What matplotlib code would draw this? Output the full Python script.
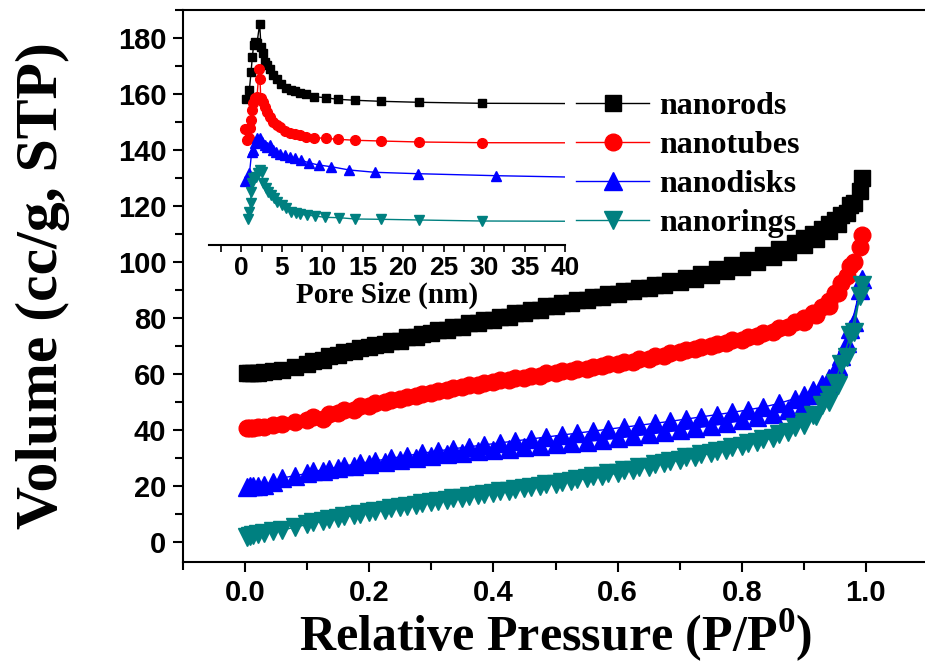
import matplotlib
matplotlib.use('Agg')
import matplotlib.pyplot as plt
from matplotlib.ticker import MultipleLocator

plt.rcParams['mathtext.fontset'] = 'custom'
plt.rcParams['mathtext.rm'] = 'Liberation Serif:bold'
plt.rcParams['mathtext.bf'] = 'Liberation Serif:bold'

# series names and colours
names = ['nanorods', 'nanotubes', 'nanodisks', 'nanorings']
colors = ['#000000', '#FF0000', '#0000FF', '#008080']
markers = ['s', 'o', '^', 'v']

# main isotherms: adsorption branch (rising P) then desorption branch (falling P)
p_ads = [0.003, 0.008, 0.013, 0.02, 0.03, 0.045, 0.06, 0.08,
         0.1, 0.125, 0.15, 0.175, 0.2, 0.225, 0.25, 0.275, 0.3, 0.325, 0.35, 0.375,
         0.4, 0.425, 0.45, 0.475, 0.5, 0.525, 0.55, 0.575, 0.6, 0.625, 0.65, 0.675,
         0.7, 0.725, 0.75, 0.775, 0.8, 0.825, 0.85, 0.875, 0.9,
         0.92, 0.94, 0.955, 0.97, 0.98, 0.993]
p_des = [0.99, 0.975, 0.96, 0.95, 0.94, 0.93, 0.915, 0.9, 0.885,
         0.86, 0.835, 0.81, 0.785, 0.76, 0.735, 0.71, 0.685, 0.66, 0.635, 0.61,
         0.585, 0.56, 0.535, 0.51, 0.485, 0.46, 0.435, 0.41, 0.385, 0.36, 0.335,
         0.31, 0.285, 0.26, 0.235, 0.21, 0.185, 0.16, 0.135, 0.11]

rods_ads = [60.3, 60.3, 60.4, 60.5, 60.7, 61.2, 61.7, 62.5,
            63.5, 65.2, 66.8, 68.3, 69.6, 70.8, 72.0, 73.3, 74.6, 75.8, 77.0, 78.2,
            79.4, 80.6, 81.8, 83.0, 84.2, 85.3, 86.4, 87.5, 88.5, 89.6, 90.7, 91.8,
            92.9, 94.1, 95.4, 96.8, 98.3, 100.0, 101.8, 103.8, 106.0,
            108.2, 111.0, 113.8, 117.5, 121.0, 130.0]
rods_des = [125.5, 120.5, 117.0, 115.2, 113.5, 112.0, 110.2, 108.5, 107.0,
            104.8, 102.6, 100.7, 99.0, 97.4, 95.9, 94.5, 93.2, 92.0, 90.9, 89.8,
            88.7, 87.6, 86.5, 85.4, 84.2, 83.0, 81.8, 80.6, 79.4, 78.2, 77.0,
            75.8, 74.5, 73.2, 71.9, 70.6, 69.3, 67.9, 66.4, 64.9]

tubes_ads = [40.9, 41.0, 41.0, 41.1, 41.3, 41.8, 42.3, 43.0,
             43.8, 44.2, 46.2, 47.4, 48.8, 50.0, 51.2, 52.3, 53.3, 54.3, 55.3, 56.2,
             57.1, 57.9, 58.7, 59.5, 60.3, 61.1, 61.9, 62.8, 63.6, 64.5, 65.5, 66.6,
             67.8, 69.0, 70.1, 71.2, 72.3, 73.5, 75.0, 76.8, 78.8,
             81.0, 84.5, 89.0, 95.0, 100.0, 109.8]
tubes_des = [105.5, 98.5, 92.5, 89.0, 86.0, 84.0, 81.8, 80.0, 78.6,
             76.6, 74.9, 73.4, 72.1, 70.9, 69.8, 68.7, 67.6, 66.5, 65.5, 64.5,
             63.6, 62.7, 61.9, 61.1, 60.3, 59.5, 58.7, 57.9, 57.0, 56.1, 55.1,
             54.1, 53.1, 52.0, 50.9, 49.7, 48.5, 47.2, 45.9, 44.6]

disks_ads = [19.8, 20.0, 20.0, 20.2, 20.5, 21.5, 23.0, 23.8,
             24.6, 25.5, 26.4, 27.3, 28.1, 28.8, 29.5, 30.2, 30.8, 31.4, 32.0, 32.5,
             33.0, 33.5, 34.0, 34.5, 35.0, 35.5, 36.0, 36.6, 37.2, 37.9, 38.6, 39.3,
             40.0, 40.8, 41.6, 42.5, 43.5, 44.6, 45.8, 47.3, 49.5,
             52.5, 57.0, 63.0, 71.0, 78.5, 94.0]
disks_des = [90.0, 76.0, 66.5, 61.5, 58.5, 56.5, 54.3, 52.6, 51.3,
             49.6, 48.3, 47.3, 46.4, 45.6, 44.8, 44.0, 43.2, 42.5, 41.8, 41.1,
             40.4, 39.7, 39.0, 38.3, 37.6, 36.9, 36.2, 35.5, 34.8, 34.1, 33.4,
             32.6, 31.8, 30.9, 30.0, 29.1, 28.2, 27.3, 26.3, 25.3]

rings_ads = [1.8, 2.2, 2.6, 3.0, 3.4, 3.9, 4.4, 5.4,
             6.4, 7.6, 8.7, 9.7, 10.7, 11.6, 12.5, 13.4, 14.3, 15.2, 16.0, 16.9,
             17.7, 18.5, 19.4, 20.2, 21.0, 21.9, 22.8, 23.7, 24.7, 25.8, 27.0, 28.2,
             29.4, 30.6, 31.8, 33.0, 34.3, 35.7, 37.3, 39.3, 41.8,
             45.0, 50.0, 56.0, 66.0, 75.0, 92.0]
rings_des = [88.0, 74.0, 63.5, 57.0, 52.5, 49.0, 45.5, 43.0, 41.2,
             38.8, 36.9, 35.3, 34.0, 32.7, 31.5, 30.3, 29.1, 27.9, 26.8, 25.7,
             24.6, 23.6, 22.6, 21.7, 20.8, 19.9, 19.0, 18.2, 17.4, 16.6, 15.8,
             14.9, 14.0, 13.1, 12.2, 11.3, 10.3, 9.3, 8.3, 7.2]

# inset: pore size distributions (arbitrary, offset units)
rods_d = [0.62, 0.99, 1.2, 1.36, 1.52, 1.73, 1.93, 2.26, 2.43, 2.67, 2.88, 3.17, 3.5,
          3.91, 4.4, 4.9, 5.56, 6.1, 6.67, 7.2, 8.0, 9.0, 10.4, 11.9, 14.1, 17.2,
          22.0, 29.8, 60]
rods_v = [145.7, 155, 173.3, 188.3, 200, 203.3, 201.7, 221, 198.3, 191.7, 183.3, 180,
          175.7, 170, 165.7, 161, 156.7, 155, 154, 151.7, 150.7, 148.3, 147.3, 145.7,
          144.7, 143.7, 142.7, 141.7, 141]
tubes_d = [0.5, 0.7, 1.0, 1.1, 1.2, 1.3, 1.45, 1.65, 1.93, 2.2, 2.3, 2.4, 2.67, 2.88,
           3.17, 3.5, 3.91, 4.4, 4.8, 5.4, 6.0, 6.6, 7.2, 8.0, 9.0, 10.4, 11.9, 14.1,
           17.2, 22.0, 29.8, 60]
tubes_v = [115.7, 105, 106.7, 116.7, 125, 135, 141.7, 146.7, 147.7, 176.3, 165.7,
           146.7, 143.3, 138.3, 133.3, 128.3, 123.3, 120, 118.3, 114.3, 112.3, 111,
           110, 108.5, 107.3, 106.7, 105.7, 104.7, 104, 103, 102.3, 102]
disks_d = [0.5, 1.0, 1.28, 1.48, 1.69, 1.98, 2.3, 2.6, 2.88, 3.17, 3.6, 3.9, 4.33,
           4.8, 5.4, 6.05, 6.67, 7.36, 8.3, 9.55, 11.1, 13.35, 16.5, 21.8, 31.5, 60]
disks_v = [64.3, 71.7, 93.3, 95, 101.7, 106.7, 107.3, 103.3, 100, 98.3, 100, 95, 93.3,
           91, 90, 88.3, 86.7, 85, 82.3, 80, 78.3, 75, 72.7, 71.3, 69.3, 65]
rings_d = [0.85, 0.99, 1.15, 1.2, 1.28, 1.48, 1.8, 2.1, 2.3, 2.5, 2.7, 3.05, 3.33,
           3.66, 4.03, 4.44, 4.97, 5.5, 6.08, 6.7, 7.28, 8.1, 9.1, 10.3, 12.1, 14.1,
           17.3, 22.0, 29.7, 60]
rings_v = [25.7, 33.3, 41.7, 53.3, 61.7, 66.7, 68.3, 71.7, 75, 73.3, 62, 56.7, 53.3,
           50, 46.7, 43.3, 40, 36.7, 33.3, 32.3, 30.7, 30, 29, 27.7, 27.3, 26, 25.7,
           25, 24, 23.3]

main_data = [(rods_ads, rods_des), (tubes_ads, tubes_des),
             (disks_ads, disks_des), (rings_ads, rings_des)]
inset_data = [(rods_d, rods_v), (tubes_d, tubes_v), (disks_d, disks_v), (rings_d, rings_v)]
main_msize = [11, 12, 13.5, 13.5]
inset_msize = [6, 7, 7.5, 7.5]

label_font = {'family': 'Liberation Serif', 'weight': 'bold'}

fig = plt.figure(figsize=(9.25, 6.66), dpi=100)
W, H = 925, 666
ax = fig.add_axes([183 / W, 1 - 562 / H, (928 - 183) / W, (562 - 10) / H])

handles = []
for (ads, des), name, c, m, ms in zip(main_data, names, colors, markers, main_msize):
    line, = ax.plot(p_ads + p_des, ads + des, color=c, marker=m, markersize=ms,
                    linewidth=1, markeredgecolor=c, label=name, clip_on=False)
    handles.append(line)

ax.set_xlim(-0.1, 1.1)
ax.set_ylim(-7, 190)
ax.xaxis.set_major_locator(MultipleLocator(0.2))
ax.xaxis.set_minor_locator(MultipleLocator(0.1))
ax.yaxis.set_major_locator(MultipleLocator(20))
ax.yaxis.set_minor_locator(MultipleLocator(10))
ax.xaxis.set_major_formatter(plt.FuncFormatter(lambda v, p: f'{v:.1f}'))
ax.tick_params(axis='both', which='both', direction='out', width=1.5, top=False, right=False)
ax.tick_params(axis='both', which='major', length=7, pad=5)
ax.tick_params(axis='both', which='minor', length=6)
for lab in ax.get_xticklabels() + ax.get_yticklabels():
    lab.set_fontfamily('Liberation Sans')
    lab.set_fontweight('bold')
    lab.set_fontsize(21)
for s in ['left', 'bottom', 'top']:
    ax.spines[s].set_linewidth(1.5)
ax.spines['right'].set_visible(False)

ax.set_xlabel('Relative Pressure (P/P$^{\\mathbf{0}}$)', fontsize=36, labelpad=0, **label_font)
ax.set_ylabel('Volume (cc/g, STP)', fontsize=43, labelpad=34, **label_font)

leg = ax.legend(handles=handles, loc='upper left', bbox_to_anchor=(560 / W, 1 - 76 / H),
                bbox_transform=fig.transFigure, frameon=False, handlelength=2.3,
                handletextpad=0.3, labelspacing=0.3, borderpad=0,
                prop={'family': 'Liberation Serif', 'weight': 'bold', 'size': 23})

# inset
ins = fig.add_axes([209 / W, 1 - 245 / H, 356 / W, 235 / H])
ins.patch.set_alpha(0)
for (d, v), c, m, ms in zip(inset_data, colors, markers, inset_msize):
    ins.plot(d, v, color=c, marker=m, markersize=ms, linewidth=1, markeredgecolor=c)
ins.set_xlim(-4, 40)
ins.set_ylim(0, 235)
for s in ['left', 'right', 'top']:
    ins.spines[s].set_visible(False)
ins.spines['bottom'].set_linewidth(1.5)
ins.set_yticks([])
ins.xaxis.set_major_locator(MultipleLocator(5))
ins.xaxis.set_minor_locator(MultipleLocator(2.5))
ins.set_xticks(range(0, 41, 5))
ins.tick_params(axis='x', which='both', direction='out', width=1.2, length=5, pad=3)
for lab in ins.get_xticklabels():
    lab.set_fontfamily('Liberation Sans')
    lab.set_fontweight('bold')
    lab.set_fontsize(19)
ins.set_xlabel('Pore Size (nm)', fontsize=21, labelpad=1, **label_font)

fig.savefig('out.png', dpi=100)
